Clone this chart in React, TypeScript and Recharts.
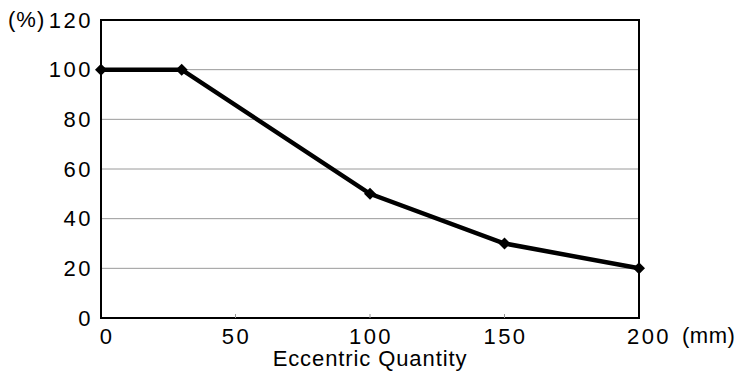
import React from 'react';
import { LineChart, Line, XAxis, YAxis, CartesianGrid, ReferenceArea, Label } from 'recharts';

const eccentricMm = [0, 30, 100, 150, 200];
const ratioPct = [100, 100, 50, 30, 20];
const xTicks = [0, 50, 100, 150, 200];
const yTicks = [0, 20, 40, 60, 80, 100, 120];
const xTitle = 'Eccentric Quantity';
const xUnit = '(mm)';
const yUnit = '(%)';

const data = eccentricMm.map((x, i) => ({ x, y: ratioPct[i] }));

const FONT = '"Liberation Sans", Arial, sans-serif';
const FS = 22;
const LS_NUM = 2.5;
const LS_TXT = 0.9;

const Diamond = (props: any) => {
  const { cx, cy } = props;
  if (cx == null || cy == null) return null;
  const r = 6;
  return (
    <polygon
      points={`${cx},${cy - r} ${cx + r},${cy} ${cx},${cy + r} ${cx - r},${cy}`}
      fill="#000"
    />
  );
};

const XTick = (props: any) => {
  const { x, y, payload, index } = props;
  const axisY = y - 9;
  const v = payload.value;
  const last = index === xTicks.length - 1;
  const dx = index === 0 ? 6 : last ? 10 : 1;
  return (
    <g>
      {v > 0 && v < 200 && (
        <line x1={x} x2={x} y1={axisY} y2={axisY - 4} stroke="#999" strokeWidth={1} />
      )}
      <text
        x={x + dx}
        y={y + 1}
        dy="0.71em"
        textAnchor="middle"
        fontFamily={FONT}
        fontSize={FS}
        letterSpacing={LS_NUM}
        fill="#000"
      >
        {v}
      </text>
    </g>
  );
};

const YTick = (props: any) => {
  const { x, y, payload } = props;
  return (
    <text
      x={x}
      y={y}
      dy="0.355em"
      textAnchor="end"
      fontFamily={FONT}
      fontSize={FS}
      letterSpacing={LS_NUM}
      fill="#000"
    >
      {payload.value}
    </text>
  );
};

const XLabel = (props: any) => {
  const { viewBox } = props;
  const { x, y, width } = viewBox;
  return (
    <g>
      <text
        x={x + width / 2}
        y={y + 48}
        textAnchor="middle"
        fontFamily={FONT}
        fontSize={FS}
        letterSpacing={LS_TXT}
        fill="#000"
      >
        {xTitle}
      </text>
      <text
        x={x + width + 43}
        y={y + 25}
        textAnchor="start"
        fontFamily={FONT}
        fontSize={FS}
        letterSpacing={0.5}
        fill="#000"
      >
        {xUnit}
      </text>
    </g>
  );
};

const YLabel = (props: any) => {
  const { viewBox } = props;
  const { y } = viewBox;
  return (
    <text
      x={8}
      y={y + 7}
      textAnchor="start"
      fontFamily={FONT}
      fontSize={FS}
      letterSpacing={1}
      fill="#000"
    >
      {yUnit}
    </text>
  );
};

export default function App() {
  return (
    <div style={{ position: 'absolute', left: 0, top: 0, width: 736, height: 376, background: '#fff' }}>
      <LineChart
        width={736}
        height={376}
        data={data}
        margin={{ top: 20, right: 97, left: 41, bottom: 28 }}
      >
        <CartesianGrid horizontal={true} vertical={false} stroke="#9a9a9a" strokeWidth={1} />
        <XAxis
          type="number"
          dataKey="x"
          domain={[0, 200]}
          ticks={xTicks}
          interval={0}
          height={30}
          tickSize={0}
          tickMargin={9}
          axisLine={false}
          tickLine={false}
          tick={<XTick />}
        >
          <Label content={<XLabel />} />
        </XAxis>
        <YAxis
          type="number"
          domain={[0, 120]}
          ticks={yTicks}
          interval={0}
          width={60}
          tickSize={0}
          tickMargin={8}
          axisLine={false}
          tickLine={false}
          tick={<YTick />}
        >
          <Label content={<YLabel />} />
        </YAxis>
        <ReferenceArea
          x1={0}
          x2={200}
          y1={0}
          y2={120}
          fill="none"
          fillOpacity={0}
          stroke="#000"
          strokeWidth={2}
        />
        <Line
          type="linear"
          dataKey="y"
          stroke="#000"
          strokeWidth={4.5}
          dot={<Diamond />}
          activeDot={false}
          isAnimationActive={false}
        />
      </LineChart>
    </div>
  );
}
